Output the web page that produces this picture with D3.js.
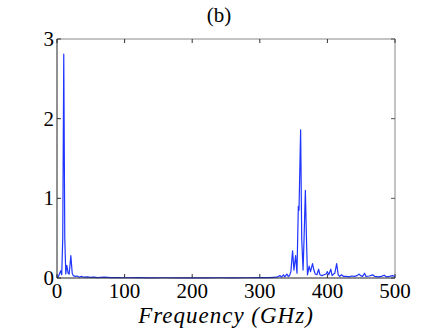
<!DOCTYPE html>
<html>
<head>
<meta charset="utf-8">
<script src="https://cdn.jsdelivr.net/npm/d3@7"></script>
<style>
  html, body { margin: 0; padding: 0; background: #fff; }
  svg { display: block; }
  svg text { font-family: "Liberation Serif", "DejaVu Serif", serif; }
</style>
</head>
<body>
<svg id="chart" width="436" height="328"></svg>
<script>
// Spectrum: frequency (GHz) and amplitude.
const freq = [0, 2, 4, 5.5, 7, 8.5, 10, 11.5, 13, 14.5, 16.5, 18, 20.5, 22.5, 24, 27, 30, 33, 36, 40,
  45, 50, 55, 60, 70, 80, 90, 100, 120, 140, 160, 180, 200, 220, 240, 260, 280, 300, 315, 325,
  330, 332, 335, 337, 340, 342, 344, 346, 348.5, 350.5, 353, 355, 357, 358, 360.4, 362, 364, 365.5,
  367.4, 369, 370.5, 373, 375, 378, 380, 382, 384.5, 387, 389, 392, 395, 398, 400, 402, 405, 407,
  409, 411, 413.7, 416, 418, 421, 424, 428, 432, 436, 440, 444, 447, 449, 452, 455, 457, 462, 467,
  470, 475, 480, 484, 487, 492, 496, 500];
const amp = [0.01, 0.02, 0.06, 0.09, 0.04, 0.5, 2.81, 0.5, 0.05, 0.16, 0.06, 0.05, 0.28, 0.06, 0.03, 0.02, 0.025, 0.01, 0.02, 0.01,
  0.015, 0.008, 0.012, 0.005, 0.01, 0.004, 0.006, 0.003, 0.004, 0.002, 0.003, 0.002, 0.002, 0.002, 0.003, 0.002, 0.003, 0.004, 0.005, 0.01,
  0.03, 0.01, 0.04, 0.015, 0.05, 0.02, 0.03, 0.08, 0.34, 0.1, 0.28, 0.06, 0.9, 0.85, 1.86, 0.5, 0.1, 0.5,
  1.1, 0.5, 0.04, 0.15, 0.08, 0.18, 0.1, 0.05, 0.04, 0.11, 0.04, 0.03, 0.04, 0.05, 0.08, 0.04, 0.11, 0.03,
  0.05, 0.06, 0.18, 0.04, 0.02, 0.04, 0.02, 0.02, 0.015, 0.025, 0.02, 0.03, 0.05, 0.03, 0.02, 0.06, 0.02, 0.025, 0.04,
  0.02, 0.015, 0.02, 0.035, 0.015, 0.02, 0.03, 0.02];

const xTicks = [0, 100, 200, 300, 400, 500];
const yTicks = [0, 1, 2, 3];
const title = '(b)';
const xLabel = 'Frequency (GHz)';

(function () {
  const svg = d3.select('#chart');
  const m = { left: 57, right: 395, top: 39, bottom: 278 };

  const x = d3.scaleLinear().domain([0, 500]).range([m.left, m.right]);
  const y = d3.scaleLinear().domain([0, 3]).range([m.bottom, m.top]);

  // Box frame: top/right lighter, like the MATLAB export
  svg.append('line').attr('x1', m.left).attr('x2', m.right).attr('y1', m.top).attr('y2', m.top)
    .attr('stroke', '#888').attr('stroke-width', 1);
  svg.append('line').attr('x1', m.right).attr('x2', m.right).attr('y1', m.top).attr('y2', m.bottom)
    .attr('stroke', '#888').attr('stroke-width', 1);

  // Inward ticks on all four sides
  const tick = 4;
  for (const t of xTicks) {
    svg.append('line').attr('x1', x(t)).attr('x2', x(t)).attr('y1', m.bottom).attr('y2', m.bottom - tick)
      .attr('stroke', '#333');
    svg.append('line').attr('x1', x(t)).attr('x2', x(t)).attr('y1', m.top).attr('y2', m.top + tick)
      .attr('stroke', '#333');
  }
  for (const t of yTicks) {
    svg.append('line').attr('x1', m.left).attr('x2', m.left + tick).attr('y1', y(t)).attr('y2', y(t))
      .attr('stroke', '#333');
    svg.append('line').attr('x1', m.right).attr('x2', m.right - tick).attr('y1', y(t)).attr('y2', y(t))
      .attr('stroke', '#555');
  }

  // Data line
  const pts = freq.map((f, i) => [f, amp[i]]);
  svg.append('path')
    .datum(pts)
    .attr('fill', 'none')
    .attr('stroke', '#1f35ff')
    .attr('stroke-width', 1.2)
    .attr('stroke-linejoin', 'round')
    .attr('d', d3.line().x(d => x(d[0])).y(d => y(d[1])));

  // Left/bottom axes drawn over the line
  svg.append('line').attr('x1', m.left).attr('x2', m.right).attr('y1', m.bottom).attr('y2', m.bottom)
    .attr('stroke', '#222').attr('stroke-width', 1);
  svg.append('line').attr('x1', m.left).attr('x2', m.left).attr('y1', m.top).attr('y2', m.bottom)
    .attr('stroke', '#222').attr('stroke-width', 1);

  // Tick labels
  svg.append('g').selectAll('text').data(xTicks).join('text')
    .attr('x', d => x(d)).attr('y', m.bottom + 20)
    .attr('text-anchor', 'middle')
    .attr('font-size', 21)
    .text(d => d);
  svg.append('g').selectAll('text').data(yTicks).join('text')
    .attr('x', m.left - 3).attr('y', d => y(d) + 7)
    .attr('text-anchor', 'end')
    .attr('font-size', 21)
    .text(d => d);

  svg.append('text')
    .attr('x', 219).attr('y', 22)
    .attr('text-anchor', 'middle')
    .attr('font-size', 21)
    .text(title);

  svg.append('text')
    .attr('x', 226).attr('y', 323)
    .attr('text-anchor', 'middle')
    .attr('font-size', 23).attr('font-style', 'italic')
    .attr('letter-spacing', 1)
    .text(xLabel);
})();
</script>
</body>
</html>
